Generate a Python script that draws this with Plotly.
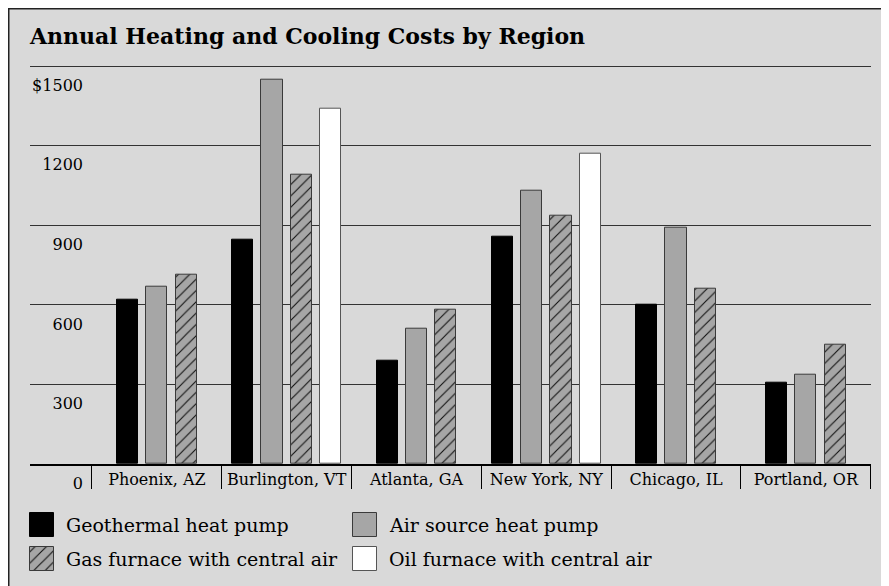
import plotly.graph_objects as go

# ---- data ----
categories = ["Phoenix, AZ", "Burlington, VT", "Atlanta, GA", "New York, NY", "Chicago, IL", "Portland, OR"]
series_names = ["Geothermal heat pump", "Air source heat pump", "Gas furnace with central air", "Oil furnace with central air"]
geothermal = [620, 845, 390, 855, 600, 305]
air_source = [670, 1450, 510, 1030, 890, 335]
gas_furnace = [715, 1090, 580, 935, 660, 450]
oil_furnace = [None, 1340, None, 1170, None, None]
y_ticks = [0, 300, 600, 900, 1200, 1500]
y_tick_labels = ["0", "300", "600", "900", "1200", "$1500"]
title_text = "Annual Heating and Cooling Costs by Region"

# ---- layout geometry (figure pixels) ----
W, H = 889, 586
PLOT_L, PLOT_R = 22, 863
BASE_Y, TOP_Y = 456, 58          # pixel rows of 0 and 1500
Y_MAX = 1520
px_per_unit = (BASE_Y - TOP_Y) / 1500
plot_top_px = BASE_Y - Y_MAX * px_per_unit
CAT_START = 84
cat_w = (PLOT_R - CAT_START) / len(categories)

FONT = "DejaVu Serif"
BG = "#d9d9d9"
GRAY = "#a6a6a6"
styles = [
    dict(color="#000000", line=dict(color="#000000", width=1)),
    dict(color=GRAY, line=dict(color="#3a3a3a", width=1)),
    dict(color=GRAY, line=dict(color="#3a3a3a", width=1),
         pattern=dict(shape="/", fgcolor="#111111", bgcolor=GRAY, size=8, solidity=0.14, fillmode="replace")),
    dict(color="#ffffff", line=dict(color="#555555", width=1)),
]
PITCH = 29.33 / cat_w
BAR_W = 21.2 / cat_w

all_series = [geothermal, air_source, gas_furnace, oil_furnace]

# per-category offsets so that each group is centred on its category
offsets = [[None] * len(categories) for _ in all_series]
for j in range(len(categories)):
    present = [k for k, s in enumerate(all_series) if s[j] is not None]
    n = len(present)
    for i, k in enumerate(present):
        centre = (i - (n - 1) / 2) * PITCH
        offsets[k][j] = centre - BAR_W / 2

fig = go.Figure()
for k, (name, vals) in enumerate(zip(series_names, all_series)):
    xs = [c for c, v in zip(categories, vals) if v is not None]
    ys = [v for v in vals if v is not None]
    offs = [o for o, v in zip(offsets[k], vals) if v is not None]
    fig.add_trace(go.Bar(
        x=xs, y=ys, name=name, offset=offs, width=BAR_W,
        marker=styles[k], showlegend=False, hoverinfo="x+y",
        xaxis="x", yaxis="y",
    ))

# ---- legend (drawn on a pixel-space helper axis) ----
LEG_COL_X = [22, 345]
LEG_ROW_Y = [505, 539]
LEG_BOX = 24
LEG_TEXT_DX = 34
legend_pos = [(0, 0), (1, 0), (0, 1), (1, 1)]
for k, (c, r) in enumerate(legend_pos):
    fig.add_trace(go.Bar(
        x=[LEG_COL_X[c] + LEG_BOX / 2], y=[LEG_BOX], base=[LEG_ROW_Y[r]], width=LEG_BOX,
        marker=styles[k], showlegend=False, hoverinfo="skip",
        xaxis="x2", yaxis="y2",
    ))
    fig.add_annotation(
        x=LEG_COL_X[c] + LEG_TEXT_DX, y=LEG_ROW_Y[r] + LEG_BOX / 2, xref="x2", yref="y2",
        text=series_names[k], showarrow=False, xanchor="left", yanchor="middle",
        font=dict(family=FONT, size=19, color="#000000"),
    )

# ---- title ----
fig.add_annotation(
    x=PLOT_L - 3, y=28, xref="x2", yref="y2", text="<b>" + title_text + "</b>",
    showarrow=False, xanchor="left", yanchor="middle",
    font=dict(family=FONT, size=22, color="#000000"),
)

# ---- frame ----
fig.add_shape(type="rect", xref="paper", yref="paper",
              x0=0, x1=1.02, y0=-0.02, y1=1,
              fillcolor="rgba(0,0,0,0)", line=dict(color="#222222", width=3), layer="above")

fig.update_layout(
    width=W, height=H,
    margin=dict(l=0, r=0, t=0, b=0),
    paper_bgcolor=BG,
    plot_bgcolor="rgba(0,0,0,0)",
    barmode="overlay",
    bargap=0,
    xaxis=dict(
        domain=[PLOT_L / W, PLOT_R / W], anchor="y",
        type="category", categoryorder="array", categoryarray=categories,
        range=[-0.5 - (CAT_START - PLOT_L) / cat_w, len(categories) - 0.5 + 0.002],
        showgrid=False, showline=True, linecolor="#000000", linewidth=1.5,
        ticks="outside", tickson="boundaries", ticklen=23, tickcolor="#000000", tickwidth=1,
        ticklabelstandoff=0,
        tickfont=dict(family=FONT, size=16, color="#000000"),
        fixedrange=True, automargin=False,
    ),
    yaxis=dict(
        domain=[1 - BASE_Y / H, 1 - plot_top_px / H], anchor="x",
        range=[0, Y_MAX],
        tickmode="array", tickvals=y_ticks, ticktext=y_tick_labels,
        showgrid=True, gridcolor="#333333", gridwidth=1.2, zeroline=False,
        showline=False, ticks="",
        ticklabelposition="outside bottom", ticklabelstandoff=-54, ticklabelshift=8,
        tickfont=dict(family=FONT, size=16, color="#000000"),
        fixedrange=True, automargin=False,
    ),
    xaxis2=dict(domain=[0, 1], range=[0, W], anchor="y2", visible=False, fixedrange=True),
    yaxis2=dict(domain=[0, 1], range=[H, 0], anchor="x2", visible=False, fixedrange=True),
)

fig.write_html("out.html")
